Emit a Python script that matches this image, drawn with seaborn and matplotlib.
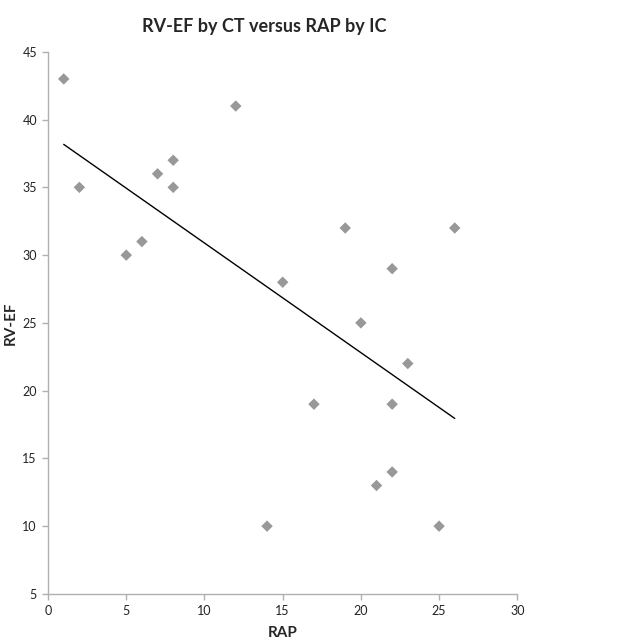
import matplotlib
matplotlib.use("Agg")
import matplotlib.pyplot as plt
import seaborn as sns
import numpy as np
import pandas as pd

rap = [1, 2, 5, 6, 7, 8, 8, 12, 14, 15, 17, 19, 20, 21, 22, 22, 22, 23, 25, 26]
rvef = [43, 35, 30, 31, 36, 37, 35, 41, 10, 28, 19, 32, 25, 13, 29, 19, 14, 22, 10, 32]
x_ticks = [0, 5, 10, 15, 20, 25, 30]
y_ticks = [5, 10, 15, 20, 25, 30, 35, 40, 45]

df = pd.DataFrame({"RAP": rap, "RV-EF": rvef})

sns.set_style("white")
plt.rcParams['font.family'] = ['Lato', 'DejaVu Sans']

fig = plt.figure(figsize=(6.41, 6.40), dpi=100)
ax = fig.add_axes([0.075, 0.072, 0.732, 0.847])

sns.regplot(data=df, x="RAP", y="RV-EF", ax=ax, ci=None, marker="D",
            scatter_kws=dict(color="#7f7f7f", s=34, edgecolors="none", zorder=3),
            line_kws=dict(color="black", linewidth=1.0, zorder=2))

ax.set_xlim(0, 30)
ax.set_ylim(5, 45)
ax.set_xticks(x_ticks)
ax.set_yticks(y_ticks)
for s in ["top", "right"]:
    ax.spines[s].set_visible(False)
for s in ["left", "bottom"]:
    ax.spines[s].set_color("#b0b0b0")
    ax.spines[s].set_linewidth(1.0)
ax.tick_params(axis="both", which="major", direction="out", length=4, width=1,
               color="#b0b0b0", labelsize=9, labelcolor="#222222", pad=4)
ax.tick_params(left=True, bottom=True)

ax.set_xlabel("RAP", fontsize=11, fontweight="bold")
ax.xaxis.set_label_coords(0.5, -0.06)
ax.set_ylabel("RV-EF", fontsize=11, fontweight="bold")
ax.yaxis.set_label_coords(-0.064, 0.5)
fig.suptitle("RV-EF by CT versus RAP by IC", fontsize=13, fontweight="bold", y=0.972, x=0.412)

fig.savefig("out.png", dpi=100)
